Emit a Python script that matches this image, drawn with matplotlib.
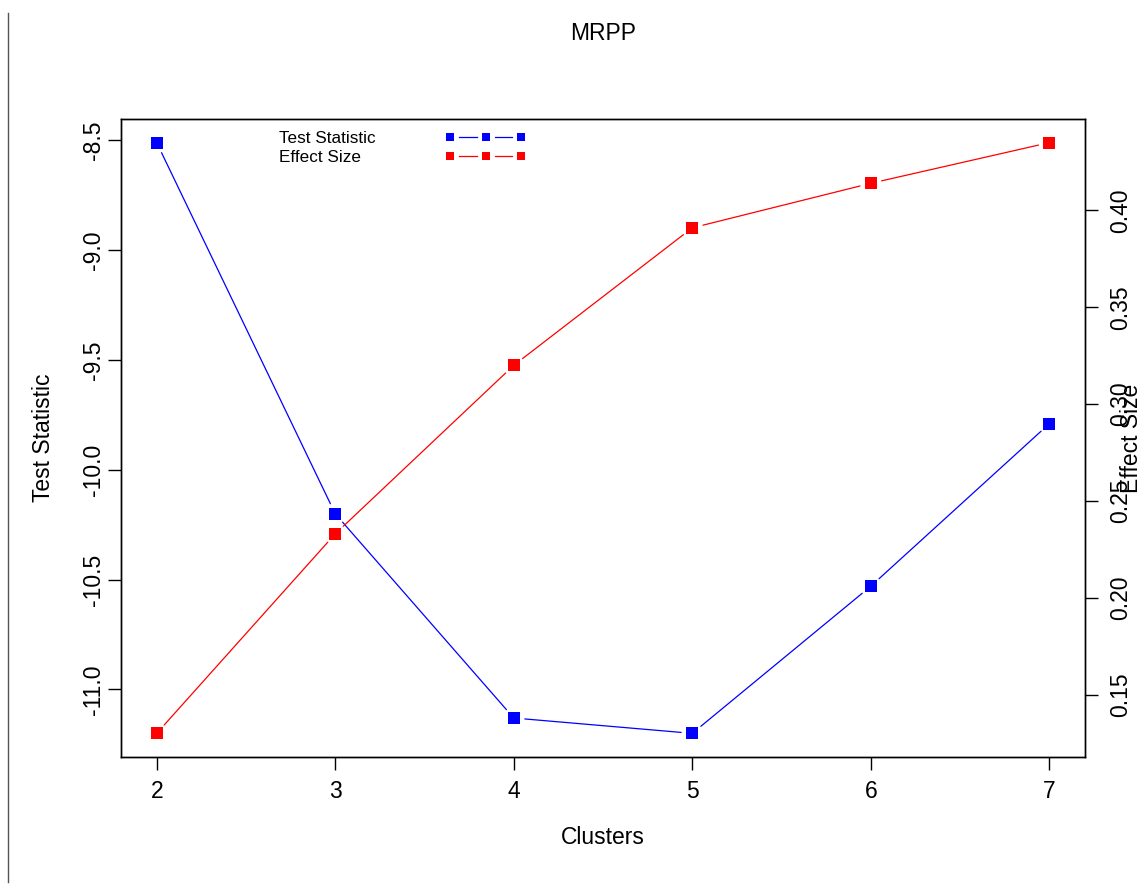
import numpy as np
import matplotlib
matplotlib.use('Agg')
import matplotlib.pyplot as plt
from matplotlib.lines import Line2D
from matplotlib.legend_handler import HandlerBase
from matplotlib.ticker import FormatStrFormatter

plt.rcParams['font.family'] = ['Liberation Sans', 'DejaVu Sans']
plt.rcParams['axes.unicode_minus'] = False

clusters = [2, 3, 4, 5, 6, 7]
test_stat = [-8.51, -10.20, -11.13, -11.20, -10.53, -9.79]
effect_size = [0.130, 0.233, 0.320, 0.391, 0.414, 0.435]

stat_ticks = [-11.0, -10.5, -10.0, -9.5, -9.0, -8.5]
effect_ticks = [0.15, 0.20, 0.25, 0.30, 0.35, 0.40]

BLUE = '#0000ff'
RED = '#ff0000'
FS = 16.5
MS = 8.6      # marker size (pt)
GAP = 8.0     # gap between line ends and marker centres (pt)


def r_limits(vals):
    # R pads the data range by 4% on each side
    lo, hi = min(vals), max(vals)
    pad = 0.04 * (hi - lo)
    return lo - pad, hi + pad


def gapped_line(ax, xs, ys, color):
    # line + points with the line broken around each point (R type="b")
    for x0, y0, x1, y1 in zip(xs[:-1], ys[:-1], xs[1:], ys[1:]):
        ax.annotate('', xy=(x1, y1), xytext=(x0, y0),
                    arrowprops=dict(arrowstyle='-', color=color, lw=0.9,
                                    shrinkA=GAP, shrinkB=GAP))
    ax.plot(xs, ys, ls='none', marker='s', ms=MS, mew=0, color=color, zorder=3)


class GapHandler(HandlerBase):
    # three points joined by broken segments, drawn well to the right of the label
    def __init__(self, offset=120.0, span=57.5, ms=6.3):
        super().__init__()
        self.offset = offset
        self.span = span
        self.ms = ms

    def create_artists(self, legend, orig_handle, xdescent, ydescent,
                       width, height, fontsize, trans):
        c = orig_handle.get_color()
        half = self.ms / 2
        x0 = -xdescent + self.offset
        xs = np.linspace(x0 + half, x0 + self.span - half, 3)
        y = height / 2 - ydescent
        arts = [Line2D(xs, [y] * 3, ls='none', marker='s', ms=self.ms, mew=0,
                       color=c, transform=trans)]
        for a, b in zip(xs[:-1], xs[1:]):
            arts.append(Line2D([a + 6.5, b - 6.5], [y, y], color=c, lw=0.9,
                               transform=trans))
        return arts


fig = plt.figure(figsize=(11.43, 8.85), dpi=100)
ax = fig.add_axes([121 / 1143, 1 - 757 / 885, 964 / 1143, 638 / 885])
ax2 = ax.twinx()

ax.set_xlim(1.8, 7.2)
ax.set_ylim(*r_limits(test_stat))
ax2.set_ylim(*r_limits(effect_size))

gapped_line(ax, clusters, test_stat, BLUE)
gapped_line(ax2, clusters, effect_size, RED)

ax.set_xticks(clusters)
ax.set_yticks(stat_ticks)
ax.yaxis.set_major_formatter(FormatStrFormatter('%.1f'))
ax2.set_yticks(effect_ticks)
ax2.yaxis.set_major_formatter(FormatStrFormatter('%.2f'))

for a in (ax, ax2):
    for s in a.spines.values():
        s.set_linewidth(1.0)
        s.set_color('black')

ax.tick_params(axis='x', direction='out', length=9.4, width=1.0, pad=7,
               labelsize=FS)
ax.tick_params(axis='y', direction='out', length=9.4, width=1.0, pad=2,
               labelsize=FS, labelrotation=90)
ax2.tick_params(axis='y', direction='out', length=9.4, width=1.0, pad=7.7,
                labelsize=FS, labelrotation=90)
for lab in ax.get_yticklabels():
    lab.set_va('center')
for lab in ax2.get_yticklabels():
    lab.set_va('center')

ax.set_xlabel('Clusters', fontsize=FS, va='center')
ax.xaxis.set_label_coords(0.5, -(838 - 757) / 638)
ax.set_ylabel('Test Statistic', fontsize=FS, va='center')
ax.yaxis.set_label_coords((44 - 121) / 964, 0.5)
ax2.set_ylabel('Effect Size', fontsize=FS, va='center')
ax2.yaxis.set_label_coords((1132 - 121) / 964, 0.5)

fig.text(603 / 1143, 1 - 33 / 885, 'MRPP', fontsize=FS, ha='center', va='center')

handles = [Line2D([], [], color=BLUE), Line2D([], [], color=RED)]
ax.legend(handles, ['Test Statistic', 'Effect Size'],
          handler_map={Line2D: GapHandler()},
          loc='upper left', bbox_to_anchor=((279 - 121) / 964, (757 - 131) / 638),
          frameon=False, fontsize=12.3,
          borderaxespad=0, borderpad=0, labelspacing=0.25,
          handletextpad=0, handlelength=0.01)

# thin rule down the left margin
fig.add_artist(Line2D([8 / 1143, 8 / 1143], [1 - 13 / 885, 1 - 882 / 885],
                      color='#555555', lw=1.0))

fig.savefig('out.png', dpi=100)
